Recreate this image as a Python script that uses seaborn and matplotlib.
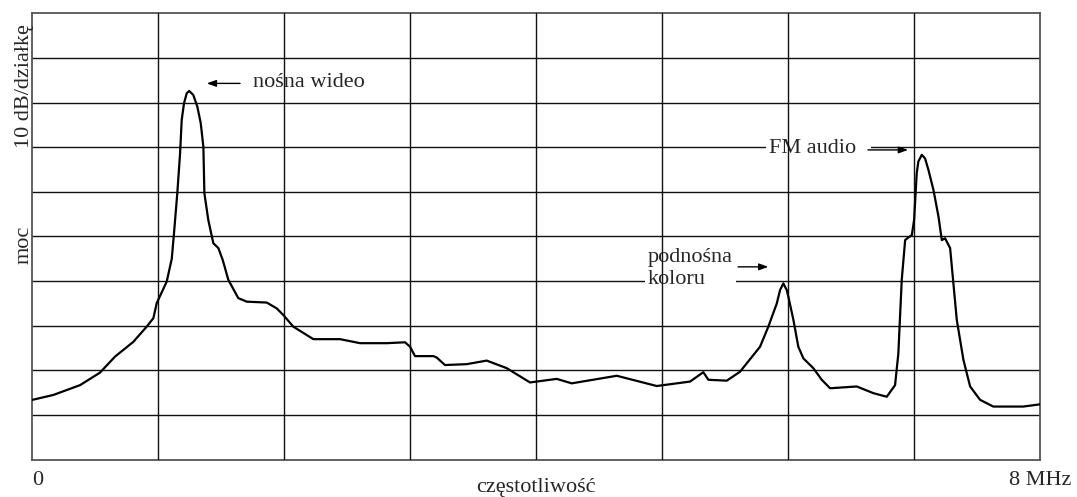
import matplotlib
matplotlib.use("Agg")
import matplotlib.pyplot as plt
import seaborn as sns
import pandas as pd

# spectrum trace: frequency in MHz, power in divisions (10 dB each)
freq_mhz = [0.00, 0.167, 0.379, 0.537, 0.657, 0.802, 0.908, 0.961, 0.988, 1.067,
            1.107, 1.125, 1.151, 1.173, 1.186, 1.204, 1.226, 1.246, 1.278, 1.310,
            1.337, 1.358, 1.366, 1.397, 1.437, 1.477, 1.512, 1.556, 1.635, 1.702,
            1.861, 1.940, 1.993, 2.072, 2.231, 2.443, 2.602, 2.814, 2.959, 2.999,
            3.038, 3.184, 3.210, 3.276, 3.449, 3.607, 3.766, 3.951, 4.163, 4.282,
            4.640, 4.957, 5.116, 5.222, 5.327, 5.367, 5.513, 5.618, 5.777, 5.843,
            5.910, 5.936, 5.962, 5.989, 6.002, 6.042, 6.081, 6.121, 6.200, 6.267,
            6.333, 6.545, 6.677, 6.783, 6.849, 6.875, 6.902, 6.929, 6.955, 6.982,
            7.000, 7.021, 7.034, 7.061, 7.087, 7.114, 7.154, 7.194, 7.220, 7.246,
            7.286, 7.339, 7.392, 7.445, 7.524, 7.629, 7.867, 8.000]
power_div = [1.34, 1.45, 1.67, 1.95, 2.31, 2.64, 2.98, 3.17, 3.51, 3.99,
             4.50, 5.08, 5.97, 6.86, 7.61, 7.98, 8.21, 8.26, 8.17, 7.91,
             7.54, 7.01, 5.97, 5.37, 4.85, 4.74, 4.47, 4.03, 3.62, 3.54,
             3.52, 3.39, 3.24, 2.98, 2.70, 2.70, 2.61, 2.61, 2.63, 2.53,
             2.32, 2.32, 2.29, 2.12, 2.14, 2.22, 2.05, 1.73, 1.81, 1.71,
             1.88, 1.65, 1.71, 1.75, 1.96, 1.79, 1.77, 1.97, 2.53, 2.98,
             3.50, 3.80, 3.95, 3.80, 3.65, 3.13, 2.53, 2.27, 2.05, 1.79,
             1.60, 1.64, 1.49, 1.41, 1.67, 2.38, 4.03, 4.92, 4.98, 5.03,
             5.37, 6.42, 6.68, 6.83, 6.75, 6.49, 6.04, 5.44, 4.92, 4.96,
             4.74, 3.13, 2.23, 1.64, 1.34, 1.19, 1.19, 1.24]

x_ticks = [0, 8]
x_tick_labels = ["0", "8 MHz"]
x_label = "częstotliwość"
y_label_top = "10 dB/działkę"
y_label_mid = "moc"

df = pd.DataFrame({"f": freq_mhz, "p": power_div})

sns.set_style("white")
plt.rcParams["font.family"] = ["Liberation Serif", "DejaVu Serif"]
fs = 16

fig = plt.figure(figsize=(10.77, 4.97), dpi=100)
ax = fig.add_axes([0.030, 0.0751, 0.9357, 0.8981])

# grid: horizontal lines under text boxes, vertical lines over them
for y in range(1, 10):
    ax.axhline(y, color="#111111", lw=1.0, zorder=1)
for x in range(1, 8):
    ax.axvline(x, color="#111111", lw=1.0, zorder=3)

sns.lineplot(data=df, x="f", y="p", sort=False, color="black", lw=1.6,
             ax=ax, zorder=4)

ax.set_xlim(0, 8)
ax.set_ylim(0, 10)
ax.set_yticks([])
ax.set_xticks(x_ticks)
ax.set_xticklabels(x_tick_labels, fontsize=fs)
ax.tick_params(axis="x", length=0, pad=8)
ax.get_xticklabels()[0].set_horizontalalignment("left")
ax.set_xlabel(x_label, fontsize=fs)
ax.xaxis.set_label_coords(0.5, -0.040)
ax.set_ylabel("")
for s in ax.spines.values():
    s.set_color("#555555")
    s.set_linewidth(1.3)

ax.text(-0.008, 0.836, y_label_top, transform=ax.transAxes, rotation=90,
        ha="center", va="center", fontsize=fs)
ax.text(-0.008, 0.481, y_label_mid, transform=ax.transAxes, rotation=90,
        ha="center", va="center", fontsize=fs)

box = dict(boxstyle="square,pad=0.15", facecolor="white", edgecolor="none")
arrow = dict(arrowstyle="-|>,head_length=0.55,head_width=0.2", color="black",
             lw=1.0, shrinkA=0, shrinkB=0)

ax.text(1.750, 8.46, "nośna wideo", fontsize=fs, ha="left", va="center",
        zorder=2)
ax.annotate("", xy=(1.385, 8.43), xytext=(1.649, 8.43), arrowprops=arrow,
            zorder=4)

ax.text(5.849, 6.98, "FM audio  ", fontsize=fs, ha="left", va="center",
        bbox=box, zorder=2)
ax.annotate("", xy=(6.952, 6.94), xytext=(6.634, 6.94), arrowprops=arrow,
            zorder=4)

ax.text(4.888, 4.29, "podnośna\nkoloru", fontsize=fs, ha="left",
        va="center", bbox=box, zorder=2)
ax.annotate("", xy=(5.843, 4.32), xytext=(5.603, 4.32), arrowprops=arrow,
            zorder=4)

fig.savefig("out.png", dpi=100)
